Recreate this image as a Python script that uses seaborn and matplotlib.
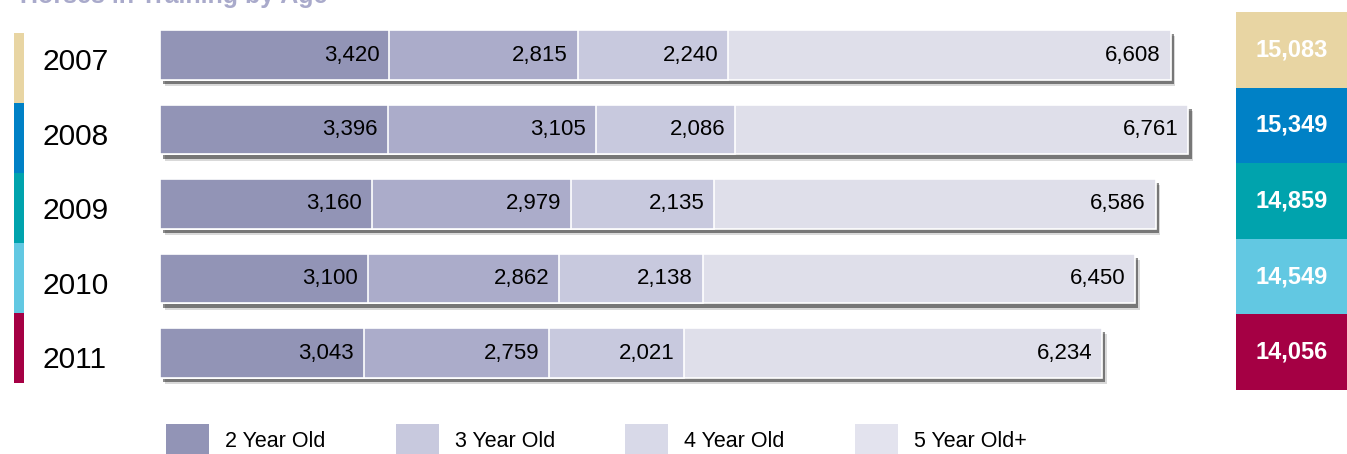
import numpy as np
import matplotlib
matplotlib.use("Agg")
import matplotlib.pyplot as plt
import matplotlib.patheffects as pe
from matplotlib.colors import ListedColormap
from matplotlib.patches import Patch
from matplotlib.transforms import blended_transform_factory
import seaborn as sns

#%% Data

years = ['2007', '2008', '2009', '2010', '2011']
age_groups = ['2 Year Old', '3 Year Old', '4 Year Old', '5 Year Old+']
two_yo = [3420, 3396, 3160, 3100, 3043]
three_yo = [2815, 3105, 2979, 2862, 2759]
four_yo = [2240, 2086, 2135, 2138, 2021]
five_yo = [6608, 6761, 6586, 6450, 6234]
totals = [15083, 15349, 14859, 14549, 14056]

#%% Styles

seg_colors = ['#9294B6', '#ABACCA', '#C8C9DE', '#DFDFEA']
legend_colors = ['#9294B6', '#C8C9DE', '#D8D9E8', '#E3E3EE']
year_colors = ['#E8D5A3', '#0081C6', '#00A3AD', '#62C8E2', '#A50044']

sns.set_style('white')
plt.rcParams['font.family'] = ['Liberation Sans', 'DejaVu Sans']

W, H = 1347, 454
fig = plt.figure(figsize=(W / 100, H / 100), dpi=100)

def px_axes(x0, y0, x1, y1):
    # axes from pixel box (top-left origin)
    return fig.add_axes([x0 / W, 1 - y1 / H, (x1 - x0) / W, (y1 - y0) / H])

#%% Stacked bars

segs = np.array([two_yo, three_yo, four_yo, five_yo]).T
cum = np.cumsum(segs, axis=1)

ax = px_axes(160, 17.75, 1200, 390.25)
for i in range(3, -1, -1):
    sns.barplot(x=cum[:, i], y=years, orient='h', color=seg_colors[i],
                width=0.67, edgecolor='white', linewidth=1.2,
                saturation=1, ax=ax)
# shadow under the full bar
for p in ax.containers[0]:
    p.set_path_effects([
        pe.SimplePatchShadow(offset=(3.5, -4.5), shadow_rgbFace='k', alpha=0.15),
        pe.SimplePatchShadow(offset=(2.5, -3), shadow_rgbFace='k', alpha=0.45),
        pe.Normal()])

for j in range(len(years)):
    for i in range(4):
        ax.annotate(f"{segs[j, i]:,}", xy=(cum[j, i], j), xytext=(-7, 0),
                    textcoords='offset points', ha='right', va='center',
                    fontsize=16, color='black')

ax.set_xlim(0, 1040 / 0.067)
ax.set_ylim(4.5, -0.5)
ax.axis('off')

# year labels
tr = blended_transform_factory(fig.transFigure, ax.transData)
for j, yr in enumerate(years):
    ax.text(43 / W, j + 0.1, yr, transform=tr, ha='left', va='center',
            fontsize=21.5, color='black')

#%% Left colour strip

ax_l = px_axes(14, 33, 24, 383)
sns.heatmap(np.arange(5).reshape(5, 1), cmap=ListedColormap(year_colors),
            vmin=-0.5, vmax=4.5, cbar=False, xticklabels=False,
            yticklabels=False, ax=ax_l)

#%% Right total boxes

ax_r = px_axes(1236, 12, 1347, 390)
sns.heatmap(np.arange(5).reshape(5, 1), cmap=ListedColormap(year_colors),
            vmin=-0.5, vmax=4.5, cbar=False, xticklabels=False,
            yticklabels=False,
            annot=np.array([f"{t:,}" for t in totals]).reshape(5, 1), fmt='',
            annot_kws={'color': 'white', 'fontsize': 17, 'fontweight': 'bold'},
            ax=ax_r)

#%% Title (cut at top, as in the original) and legend

fig.text(20 / W, 1 - 3 / H, 'Horses in Training by Age', ha='left',
         va='baseline', fontsize=18, fontweight='bold', color='#A9AACB')

handles = [Patch(facecolor=c, edgecolor='none') for c in legend_colors]
fig.legend(handles, age_groups, loc='upper left',
           bbox_to_anchor=(166 / W, 1 - 424 / H), ncol=4, frameon=False,
           fontsize=15.5, labelcolor='black', handlelength=2.0,
           handleheight=1.9, handletextpad=0.75, columnspacing=3.25,
           borderpad=0, borderaxespad=0)

fig.savefig('out.png', dpi=100)
